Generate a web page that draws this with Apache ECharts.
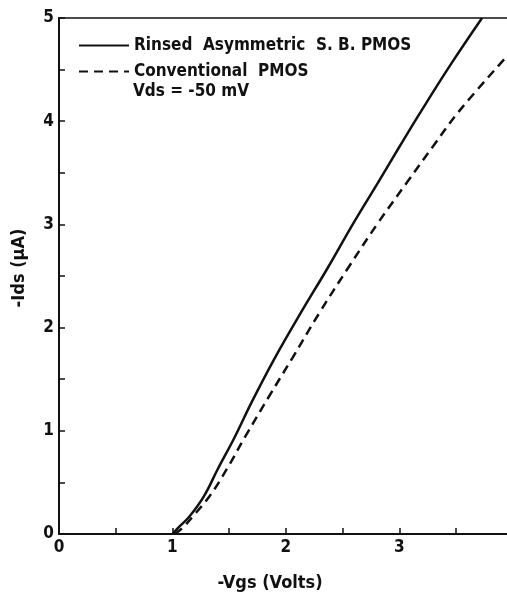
<!DOCTYPE html>
<html>
<head>
<meta charset="utf-8">
<script src="https://cdn.jsdelivr.net/npm/echarts@6/dist/echarts.min.js"></script>
<style>
  html, body { margin: 0; padding: 0; background: #fff; }
  #chart { width: 507px; height: 597px; }
</style>
</head>
<body>
<div id="chart"></div>
<script>
// -Vgs (V) vs -Ids (uA)
const rinsedPts = [
    [1.0, 0], [1.05, 0.06], [1.15, 0.17], [1.28, 0.37], [1.40, 0.63],
    [1.55, 0.94], [1.70, 1.28], [1.90, 1.70], [2.13, 2.14], [2.37, 2.58],
    [2.60, 3.02], [2.81, 3.40], [3.00, 3.75], [3.20, 4.11], [3.46, 4.56], [3.73, 5.0]
];
const conventionalPts = [
    [1.02, 0], [1.09, 0.06], [1.18, 0.17], [1.33, 0.37], [1.48, 0.63],
    [1.64, 0.94], [1.85, 1.33], [2.06, 1.71], [2.30, 2.15], [2.55, 2.58],
    [2.81, 3.01], [3.07, 3.41], [3.30, 3.76], [3.53, 4.10], [3.95, 4.63]
];
const seriesNames = ['Rinsed  Asymmetric  S. B. PMOS', 'Conventional  PMOS'];
const noteText = 'Vds = -50 mV';

const chart = echarts.init(document.getElementById('chart'), null, { renderer: 'canvas' });

const font = 'DejaVu Sans Condensed';
const intLabel = (v) => (Math.abs(v - Math.round(v)) < 1e-6 ? String(Math.round(v)) : '');

const option = {
    backgroundColor: '#fff',
    animation: false,
    grid: { left: 59, right: 0, top: 18, bottom: 59 },
    legend: {
        orient: 'vertical',
        left: 73,
        top: 32,
        itemWidth: 50,
        itemHeight: 16,
        itemGap: 9,
        itemStyle: { opacity: 0 },
        textStyle: { fontFamily: font, fontSize: 17, fontWeight: 'bold', color: '#111' },
        data: seriesNames
    },
    graphic: [{
        type: 'text',
        left: 133,
        top: 83,
        style: { text: noteText, fontFamily: font, fontSize: 17, fontWeight: 'bold', fill: '#111' }
    }],
    xAxis: [{
        type: 'value',
        min: 0,
        max: 3.95,
        interval: 0.5,
        name: '-Vgs (Volts)',
        nameLocation: 'middle',
        nameGap: 40,
        nameTextStyle: {
            fontFamily: font, fontSize: 18, fontWeight: 'bold', color: '#111',
            padding: [0, 26, 0, 0]
        },
        axisLine: { lineStyle: { color: '#111', width: 2 } },
        axisTick: { inside: true, length: 6, lineStyle: { color: '#111', width: 1.5 } },
        axisLabel: {
            formatter: intLabel, showMaxLabel: false, margin: 5,
            fontFamily: font, fontSize: 17, fontWeight: 'bold', color: '#111'
        },
        splitLine: { show: false }
    }, {
        type: 'value',
        position: 'top',
        min: 0,
        max: 3.95,
        axisLine: { show: true, onZero: false, lineStyle: { color: '#111', width: 1.5 } },
        axisTick: { show: false },
        axisLabel: { show: false },
        splitLine: { show: false }
    }],
    yAxis: {
        type: 'value',
        min: 0,
        max: 5,
        interval: 0.5,
        name: '-Ids (\u03BCA)',
        nameLocation: 'middle',
        nameGap: 31,
        nameTextStyle: {
            fontFamily: font, fontSize: 18, fontWeight: 'bold', color: '#111',
            padding: [0, 0, 0, 16]
        },
        axisLine: { show: true, lineStyle: { color: '#111', width: 2 } },
        axisTick: { show: true, inside: true, length: 6, lineStyle: { color: '#111', width: 1.5 } },
        axisLabel: {
            formatter: intLabel, margin: 5,
            fontFamily: font, fontSize: 17, fontWeight: 'bold', color: '#111'
        },
        splitLine: { show: false }
    },
    series: [{
        name: seriesNames[0],
        type: 'line',
        data: rinsedPts,
        smooth: 0.4,
        showSymbol: false,
        symbol: 'none',
        lineStyle: { color: '#111', width: 2.5, type: 'solid' },
        itemStyle: { color: '#111' }
    }, {
        name: seriesNames[1],
        type: 'line',
        data: conventionalPts,
        smooth: 0.4,
        showSymbol: false,
        symbol: 'none',
        lineStyle: { color: '#111', width: 2.5, type: [9, 6] },
        itemStyle: { color: '#111' }
    }]
};

chart.setOption(option);
</script>
</body>
</html>
